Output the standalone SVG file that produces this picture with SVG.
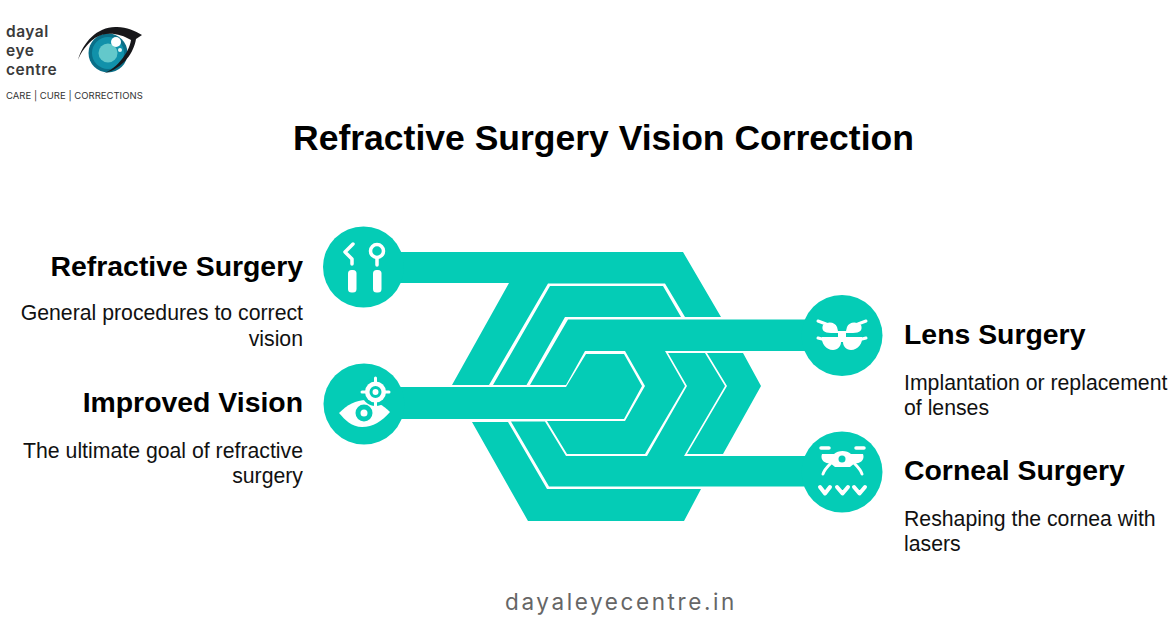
<svg xmlns="http://www.w3.org/2000/svg" width="1170" height="628" viewBox="0 0 1170 628">
<style>
.band{fill:#04ccb6}
.ico{fill:#fff}
.ln{fill:none;stroke:#fff;stroke-linecap:round;stroke-linejoin:round}
.h{font-family:"Liberation Sans",Arial,sans-serif;font-weight:700;font-size:28.400px;fill:#000}
.d{font-family:"Liberation Sans",Arial,sans-serif;font-size:21.250px;fill:#111}
.e{text-anchor:end}
.lg{font-family:Inter,"Noto Sans",sans-serif;font-weight:600;font-size:15.500px;letter-spacing:.5px;fill:#3a3a3a}
</style>
<rect width="1170" height="628" fill="#fff"/>
<g id="logo">
<text class="lg" x="6" y="37">dayal</text>
<text class="lg" x="6" y="56">eye</text>
<text class="lg" x="6" y="75">centre</text>
<text x="6" y="99" font-family="Inter,'Noto Sans',sans-serif" font-size="9.500px" letter-spacing=".02" fill="#333">CARE | CURE | CORRECTIONS</text>
<circle cx="108" cy="53" r="19.500" fill="#0a6f88"/>
<circle cx="108" cy="53" r="16" fill="#1191aa"/>
<circle cx="108" cy="53" r="9.500" fill="#63c8cb"/>
<circle cx="116" cy="42" r="5" fill="#fff"/>
<circle cx="120" cy="50" r="2" fill="#e6f7f7"/>
<path d="M78 60C83 42 98 26 117 27C127 27 135 31 142 35L136 39C134 52 124 68 104 73.500C117 68 129 53 131 40C120 33 105 31 95 38C87 44 81 52 78 60Z" fill="#17171a"/>
</g>
<text id="title" x="603.500" y="150" text-anchor="middle" font-family="'Liberation Sans',Arial,sans-serif" font-weight="700" font-size="35.500px" fill="#000">Refractive Surgery Vision Correction</text>
<g id="connectors">
<polygon class="band" points="370,252 683,252 721,317 685,317 665,283.500 548,283.500 489,385 452,385 509,283 370,283"/>
<polygon class="band" points="493,385 550,286 663,286 681,317 565,317 526.500,385"/>
<polygon class="band" points="830,319.500 568,319.500 530,385 566,385 585,351 625,351 645,386 625,421 547,421 567,454 645,454 685,386 665,351 830,351"/>
<polygon class="band" points="370,387 566,387 586,354 624,354 642,386 624,419 370,419"/>
<polygon class="band" points="830,456 684,456 725,386 705,353 668,353 687,386 647,456 566,456 545,421.500 511,421.500 549,486.500 830,486.500"/>
<polygon class="band" points="707,353 743,353 761,386 723,454 687,454 727,386"/>
<polygon class="band" points="472,422 508,422 547,489 701,489 684,521 528,521"/>
</g>
<g id="refractive-surgery">
<circle class="band" cx="363.500" cy="267" r="40.500"/>
<path class="ln" stroke-width="3.500" d="M353 244L345 252L352 259V264"/>
<rect class="ico" x="348" y="270" width="8.500" height="22.500" rx="3.500"/>
<circle cx="377" cy="251" r="6.500" fill="none" stroke="#fff" stroke-width="3.500"/>
<path class="ln" stroke-width="3.500" d="M377 258V265"/>
<rect class="ico" x="373" y="270" width="8.500" height="22.500" rx="3.500"/>
<text class="h e" x="303" y="276">Refractive Surgery</text>
<text class="d e" x="303" y="320">General procedures to correct</text>
<text class="d e" x="303" y="346">vision</text>
</g>
<g id="improved-vision">
<circle class="band" cx="364" cy="404" r="40.500"/>
<path class="ico" d="M339 413C347 405 356 400 366 400C375 400 383 405 390 412C382 421 373 427 362 427C352 427 345 420 339 413Z"/>
<circle cx="375.500" cy="392" r="14" fill="#04ccb6"/>
<circle cx="364" cy="413" r="6" fill="none" stroke="#04ccb6" stroke-width="5"/>
<circle cx="375.500" cy="392" r="10.500" fill="#fff"/>
<path class="ln" stroke-width="3" d="M375.500 378V384M375.500 400V406M362 392H368M383 392H389"/>
<circle cx="375.500" cy="392" r="4.500" fill="none" stroke="#04ccb6" stroke-width="3"/>
<text class="h e" x="303" y="412">Improved Vision</text>
<text class="d e" x="303" y="458">The ultimate goal of refractive</text>
<text class="d e" x="303" y="483">surgery</text>
</g>
<g id="lens-surgery">
<circle class="band" cx="842" cy="335.500" r="40.500"/>
<path class="ln" stroke-width="3" d="M818 321L826 324M866 321L858 324M818 338L826 340M866 338L858 340"/>
<path class="ico" d="M823 325C828 321 835 322 837 327L838 331H846L847 327C849 322 856 321 861 325C863 330 860 333 853 333H831C824 333 821 330 823 325Z"/>
<path class="ico" d="M822 337H862C863 343 858 350 851 350C846 350 843 346 843 342H841C841 346 838 350 833 350C826 350 821 343 822 337Z"/>
<rect class="ico" x="838" y="332" width="8" height="6"/>
<text class="h" x="904" y="344">Lens Surgery</text>
<text class="d" x="904" y="390">Implantation or replacement</text>
<text class="d" x="904" y="415">of lenses</text>
</g>
<g id="corneal-surgery">
<circle class="band" cx="842" cy="472" r="40.500"/>
<path class="ln" stroke-width="3.500" d="M821 448H829M856 448H864"/>
<path class="ico" d="M822 454H834C838 450 847 450 851 454H863C865 459 861 464 855 463L850 467H835L830 463C824 464 820 459 822 454Z"/>
<circle cx="842" cy="459" r="3.500" fill="#04ccb6"/>
<path class="ln" stroke-width="3" d="M831 463C827 467 824 470 823 474M854 463C858 467 861 470 862 474"/>
<path class="ln" stroke-width="4" d="M820 487L825 493.500L830 487M837 487L842.500 493.500L848 487M854 487L859.500 493.500L865 487"/>
<text class="h" x="904" y="480">Corneal Surgery</text>
<text class="d" x="904" y="526">Reshaping the cornea with</text>
<text class="d" x="904" y="551">lasers</text>
</g>
<text id="footer" x="621" y="610" text-anchor="middle" font-family="Inter,'Noto Sans',sans-serif" font-size="22.500px" letter-spacing="2.600" fill="#666">dayaleyecentre.in</text>
</svg>
